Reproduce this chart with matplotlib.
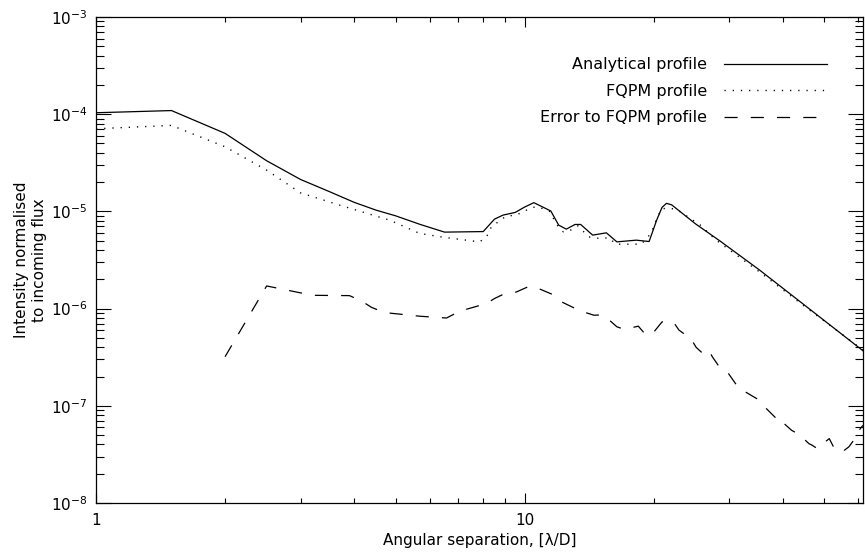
import numpy as np
import matplotlib
matplotlib.use('Agg')
import matplotlib.pyplot as plt

# Analytical coronagraphic profile
ana_x = [1, 1.5, 2, 2.5, 3, 3.5, 4, 4.5, 5, 5.7, 6.5, 8, 8.5, 8.9, 9.5, 10, 10.5,
         11.5, 12, 12.5, 13.1, 13.5, 14.4, 15.5, 16.4, 18.2, 19.5, 20.3, 20.9,
         21.4, 22, 25, 28.5, 35.3, 45, 62]
ana_y = [1.035e-4, 1.09e-4, 6.35e-5, 3.32e-5, 2.13e-5, 1.6e-5, 1.24e-5, 1.03e-5,
         9.0e-6, 7.35e-6, 6.12e-6, 6.2e-6, 8.33e-6, 9.16e-6, 9.76e-6, 1.11e-5,
         1.23e-5, 1.01e-5, 7.22e-6, 6.57e-6, 7.34e-6, 7.34e-6, 5.7e-6, 6.02e-6,
         4.86e-6, 5.06e-6, 4.9e-6, 8.1e-6, 1.1e-5, 1.21e-5, 1.17e-5, 7.46e-6,
         4.98e-6, 2.49e-6, 1.08e-6, 3.58e-7]

# FQPM profile
fqpm_x = [1, 1.5, 2, 2.5, 3, 3.7, 4.84, 5.69, 6.5, 7.85, 8.15, 8.36, 9.05, 9.55,
          10, 10.4, 10.75, 11.4, 12, 12.3, 12.7, 13.3, 14.1, 14.95, 15.75, 16.3,
          17.8, 18.7, 19.7, 20.1, 20.5, 20.9, 21.9, 22.6, 25.7, 27.8, 35.3, 45, 62]
fqpm_y = [7.08e-5, 7.67e-5, 4.62e-5, 2.66e-5, 1.55e-5, 1.16e-5, 8.13e-6, 5.93e-6,
          5.4e-6, 4.86e-6, 5.5e-6, 6.95e-6, 8.94e-6, 9.16e-6, 1.01e-5, 1.1e-5,
          1.11e-5, 1.01e-5, 6.8e-6, 6.16e-6, 6.3e-6, 7.1e-6, 5.47e-6, 5.27e-6,
          5.35e-6, 4.6e-6, 4.6e-6, 4.6e-6, 5.93e-6, 7.5e-6, 9.16e-6, 1.07e-5,
          1.07e-5, 1.05e-5, 7.2e-6, 5.15e-6, 2.38e-6, 1.05e-6, 3.65e-7]

# Error to FQPM profile
err_x = [2, 2.5, 3.2, 3.9, 4.16, 4.39, 4.71, 5.69, 6.57, 7.05, 8.15, 8.5, 9.05,
         9.55, 10.25, 10.8, 11.6, 12.2, 12.95, 13.7, 14.5, 15.1, 15.5, 16.4, 17.1,
         18.4, 19.2, 20.1, 20.9, 22.2, 22.9, 24.4, 25.1, 26.3, 27.0, 27.4, 28.6,
         29.9, 31.2, 32.0, 32.7, 34.7, 36.3, 38.3, 39.0, 39.6, 39.9, 41.9, 43.0,
         44.1, 46.0, 46.8, 48.1, 51.3, 52.5, 55.0, 55.6, 57.0, 59.3, 60.6, 61.5]
err_y = [3.2e-7, 1.71e-6, 1.37e-6, 1.36e-6, 1.2e-6, 1.03e-6, 9.1e-7, 8.35e-7,
         8.0e-7, 9.4e-7, 1.13e-6, 1.27e-6, 1.45e-6, 1.48e-6, 1.70e-6, 1.6e-6,
         1.4e-6, 1.17e-6, 1.03e-6, 9.25e-7, 8.55e-7, 8.6e-7, 8.1e-7, 6.5e-7,
         6.1e-7, 6.6e-7, 5.3e-7, 5.9e-7, 7.3e-7, 7.3e-7, 6.0e-7, 4.9e-7, 4.0e-7,
         3.3e-7, 3.58e-7, 3.18e-7, 2.42e-7, 2.13e-7, 1.63e-7, 1.56e-7, 1.39e-7,
         1.19e-7, 9.7e-8, 7.67e-8, 7.1e-8, 7.3e-8, 6.8e-8, 5.6e-8, 5.26e-8,
         4.86e-8, 4.08e-8, 3.93e-8, 3.63e-8, 4.6e-8, 3.78e-8, 3.8e-8, 3.48e-8,
         3.78e-8, 4.79e-8, 5.83e-8, 6.3e-8]

labels = ['Analytical profile', 'FQPM profile', 'Error to FQPM profile']

plt.rcParams['font.family'] = 'DejaVu Sans'
plt.rcParams['font.size'] = 11

fig = plt.figure(figsize=(8.65, 5.52), dpi=100)
ax = fig.add_axes([96 / 865, 49 / 552, 767 / 865, 486 / 552])

lw = 0.9
ax.plot(ana_x, ana_y, color='black', lw=lw, label=labels[0])
ax.plot(fqpm_x, fqpm_y, color='black', lw=1.0, linestyle=(0, (0.9, 5.0)), label=labels[1])
ax.plot(err_x, err_y, color='black', lw=lw, linestyle=(0, (10.5, 10.5)), label=labels[2])

ax.set_xscale('log')
ax.set_yscale('log')
ax.set_xlim(1, 61.5)
ax.set_ylim(1e-8, 1e-3)

ax.set_xticks([1, 10])
ax.set_xticklabels(['1', '10'])
ax.set_xticks([2, 3, 4, 5, 6, 7, 8, 9, 20, 30, 40, 50, 60], minor=True)
ax.xaxis.set_minor_formatter(matplotlib.ticker.NullFormatter())
ax.set_yticks([1e-8, 1e-7, 1e-6, 1e-5, 1e-4, 1e-3])
ax.set_yticklabels(['$10^{-8}$', '$10^{-7}$', '$10^{-6}$', '$10^{-5}$', '$10^{-4}$', '$10^{-3}$'])

ax.tick_params(which='both', direction='in', top=True, right=True, width=0.8, colors='black')
ax.tick_params(axis='x', which='major', length=7, pad=7, labelsize=11)
ax.tick_params(axis='x', which='minor', length=3.5)
ax.tick_params(axis='y', which='major', length=11, pad=6, labelsize=11)
ax.tick_params(axis='y', which='minor', length=5.5)
for s in ax.spines.values():
    s.set_linewidth(0.9)

ax.set_xlabel('Angular separation, [λ/D]', fontsize=11, labelpad=4)
ax.set_ylabel('Intensity normalised\nto incoming flux', fontsize=11, labelpad=3)

ax.legend(loc='upper right', bbox_to_anchor=(0.962, 0.93), frameon=False,
          markerfirst=False, handlelength=6.5, handletextpad=1.05,
          labelspacing=0.72, fontsize=11.5, borderaxespad=0)

fig.savefig('out.png', dpi=100)
